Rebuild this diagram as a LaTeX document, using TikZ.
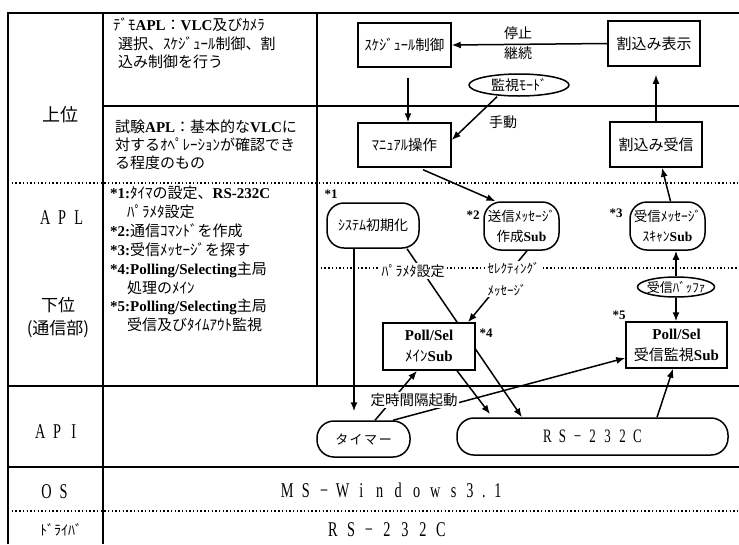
\documentclass[tikz,border=0pt]{standalone}
\usepackage{fontspec}
\setmainfont{Noto Sans CJK JP}
\newfontfamily\latfont{Liberation Serif}
\newfontfamily\narrowfont[FakeStretch=0.68]{Liberation Serif}
\usetikzlibrary{arrows.meta,shapes.geometric,backgrounds}
\newcommand\LB[1]{{\latfont\bfseries #1}}
\newcommand\fsz[2]{\fontsize{#1}{#2}\selectfont}
\newlength\mycellw
\makeatletter
\newcommand\mycells[2]{\setlength\mycellw{#1}\my@cells#2\relax}
\def\my@cells#1{\ifx\relax#1\else\makebox[\mycellw]{#1}\expandafter\my@cells\fi}
\makeatother
\begin{document}
\begin{tikzpicture}[x=1pt,y=-1pt,
  tline/.style={line width=1.5pt},
  dline/.style={line width=1.5pt,dash pattern=on 1.4pt off 2.3pt},
  boxn/.style={draw,fill=white,line width=1.5pt,inner sep=0pt,align=center},
  stad/.style={boxn,rounded corners=17pt},
  ell/.style={boxn,ellipse,inner xsep=-6pt,inner ysep=-3pt},
  arr/.style={line width=1.5pt,-{Latex[length=9pt,width=7pt]}},
  lab/.style={inner sep=0pt,align=center},
  wlab/.style={fill=white,inner sep=1.5pt,align=center},
  star/.style={inner sep=0pt,font=\latfont\bfseries\fsz{13}{13}},
  coltext/.style={inner sep=0pt,anchor=base west,text width=215pt,align=left},
]
\useasboundingbox (0,0) rectangle (739,544);

% ---------- column 1 ----------
\node[lab,font=\fsz{18}{18}] (up) at (60,115) {上位};
\node[lab,font=\narrowfont\fsz{21}{21}] (apl) at (62,218) {\mycells{16.7pt}{APL}};
\node[lab,font=\fsz{17}{23}] (low) at (58,318) {下位\\(通信部)};
\node[lab,font=\narrowfont\fsz{21}{21}] (api) at (57,432) {\mycells{16.7pt}{API}};
\node[lab,font=\narrowfont\fsz{21}{21}] (os) at (55,492) {\mycells{17pt}{OS}};
\node[lab,font=\fsz{14}{14}] (drv) at (61,530) {ﾄﾞﾗｲﾊﾞ};

% ---------- column 2 ----------
\node[coltext,font=\fsz{15}{18.5}] (demo) at (113,30.5)
  {ﾃﾞﾓ\LB{APL}：\LB{VLC}及びｶﾒﾗ\\\hspace*{5pt}選択、ｽｹｼﾞｭｰﾙ制御、割\\\hspace*{5pt}込み制御を行う};
\node[coltext,font=\fsz{15}{18}] (test) at (115,132.5)
  {試験\LB{APL}：基本的な\LB{VLC}に\\対するｵﾍﾟﾚｰｼｮﾝが確認でき\\る程度のもの};
\node[coltext,font=\fsz{15}{18.9}] (notes) at (110,198.5)
  {\LB{*1:}ﾀｲﾏの設定、\LB{RS-232C}\\
   \hspace*{17pt}ﾊﾟﾗﾒﾀ設定\\
   \LB{*2:}通信ｺﾏﾝﾄﾞを作成\\
   \LB{*3:}受信ﾒｯｾｰｼﾞを探す\\
   \LB{*4:Polling/Selecting}主局\\
   \hspace*{17pt}処理のﾒｲﾝ\\
   \LB{*5:Polling/Selecting}主局\\
   \hspace*{17pt}受信及びﾀｲﾑｱｳﾄ監視};

% ---------- bottom rows ----------
\node[lab,font=\narrowfont\fsz{21}{21}] (win) at (391.5,490) {\mycells{18.5pt}{MS−Windows}\mycells{14pt}{3.1}};
\node[lab,font=\narrowfont\fsz{21}{21}] (drvrs) at (387,530) {\mycells{18pt}{RS−232C}};

% ---------- column 3 nodes ----------
\node[boxn,minimum width=93pt,minimum height=44pt,font=\fsz{14.5}{14.5}] (sched) at (404.5,45) {ｽｹｼﾞｭｰﾙ制御};
\node[boxn,minimum width=92pt,minimum height=45pt,font=\fsz{15}{15}] (intdisp) at (654,43.5) {割込み表示};
\node[ell,minimum width=100pt,minimum height=22pt,font=\fsz{14}{14}] (mode) at (519,85) {監視ﾓｰﾄﾞ};
\node[boxn,minimum width=93pt,minimum height=44pt,font=\fsz{14.5}{14.5}] (manual) at (404.5,145) {ﾏﾆｭｱﾙ操作};
\node[boxn,minimum width=92pt,minimum height=45pt,font=\fsz{15}{15}] (intrecv) at (656,144.5) {割込み受信};
\node[stad,minimum width=92pt,minimum height=45pt,font=\fsz{14}{14}] (init) at (373,225.5) {ｼｽﾃﾑ初期化};
\node[stad,minimum width=75pt,minimum height=48pt,font=\fsz{13.5}{20}] (send) at (521.5,226) {送信ﾒｯｾｰｼﾞ\\作成\LB{Sub}};
\node[stad,minimum width=75pt,minimum height=48pt,font=\fsz{13.5}{20}] (scan) at (667.5,226) {受信ﾒｯｾｰｼﾞ\\ｽｷｬﾝ\LB{Sub}};
\node[ell,minimum width=77pt,minimum height=20pt,font=\fsz{13}{13}] (buf) at (676,287) {受信ﾊﾞｯﾌｧ};
\node[boxn,minimum width=92pt,minimum height=47pt,font=\fsz{15}{21}] (pm) at (429,346.5) {\LB{Poll/Sel}\\ﾒｲﾝ\LB{Sub}};
\node[boxn,minimum width=101pt,minimum height=46pt,font=\fsz{15}{21}] (pr) at (676.5,345) {\LB{Poll/Sel}\\受信監視\LB{Sub}};
\node[stad,minimum width=93pt,minimum height=36pt,font=\fsz{13}{13}] (timer) at (363.5,439) {\mycells{14.5pt}{タイマー}};
\node[stad,minimum width=271pt,minimum height=37pt,font=\narrowfont\fsz{19}{19}] (rsapi) at (592.5,436.5) {\mycells{15pt}{RS−232C}};

% stars
\node[star] (s1) at (331,194) {*1};
\node[star] (s2) at (473,215) {*2};
\node[star] (s3) at (616,213) {*3};
\node[star] (s4) at (486,333) {*4};
\node[star] (s5) at (619,315) {*5};

% labels
\node[lab,font=\fsz{14}{20}] (stopcont) at (518,43) {停止\\継続};
\node[lab,font=\fsz{14}{14}] (manu) at (503,122) {手動};
\node[wlab,font=\fsz{14}{14}] (param) at (413,271) {ﾊﾟﾗﾒﾀ設定};
\node[wlab,font=\fsz{13}{22},align=left,anchor=west] (selmsg) at (486,279) {ｾﾚｸﾃｨﾝｸﾞ\\ﾒｯｾｰｼﾞ};
\node[wlab,font=\fsz{14.5}{14.5}] (teiji) at (414,400) {定時間隔起動};

% ---------- grid and connectors (behind) ----------
\begin{scope}[on background layer]
\draw[tline] (8,544) -- (8,13) -- (739,13);
\draw[tline] (103,13) -- (103,544);
\draw[tline] (317,13) -- (317,386);
\draw[tline] (103,106) -- (739,106);
\draw[dline] (8,183) -- (739,183);
\draw[dline] (317,268) -- (739,268);
\draw[tline] (8,386) -- (739,386);
\draw[tline] (8,467) -- (739,467);
\draw[dline] (8,511) -- (739,511);

\draw[arr] (intdisp.west) -- (sched.east);
\draw[arr,shorten <=10pt] ([xshift=3.5pt]sched.south) -- ([xshift=3.5pt]manual.north);
\draw[arr] ([xshift=-22pt]mode.south) -- ([yshift=5pt]manual.east);
\draw[arr,shorten >=8pt] (intrecv.north) -- (intrecv.north |- intdisp.south);
\draw[arr,shorten <=5pt] ([xshift=14pt]manual.south) -- ([xshift=-26pt]send.north);
\draw[arr] ([xshift=3pt]scan.north) -- ([xshift=6pt]intrecv.south);
\draw[arr] ([xshift=34pt]init.south) -- ([xshift=-70.5pt]rsapi.north);
\draw[arr] ([xshift=5.5pt]send.south) -- ([xshift=39pt]pm.north);
\draw[arr,shorten >=4pt] ([xshift=28pt]pm.south) -- ([xshift=-100pt]rsapi.north);
\draw[arr,shorten >=9pt] ([xshift=-19pt]init.south) -- ([xshift=-19pt]init.south |- timer.north);
\draw[arr] ([xshift=11.5pt]timer.north) -- ([xshift=-12pt]pm.south);
\draw[arr] ([xshift=29.5pt]timer.north) -- ([yshift=-13pt]pr.west);
\draw[arr] ([xshift=64.5pt]rsapi.north) -- ([xshift=-3.5pt]pr.south);
\draw[arr] (buf.north) -- (buf.north |- scan.south);
\draw[arr] (buf.south) -- (buf.south |- pr.north);
\end{scope}
\end{tikzpicture}
\end{document}
